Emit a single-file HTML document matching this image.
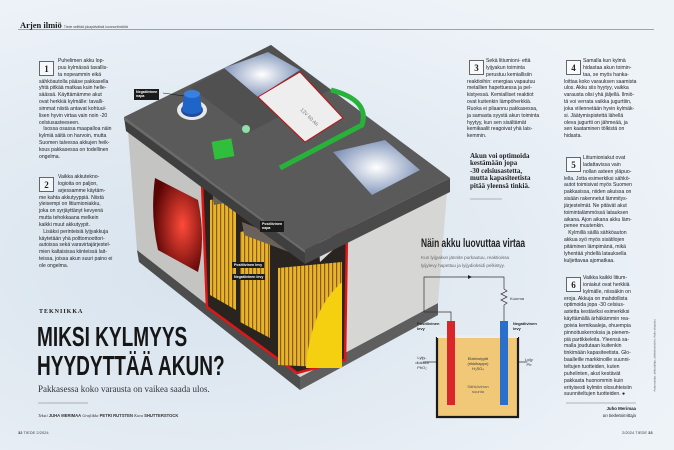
<!DOCTYPE html>
<html><head><meta charset="utf-8">
<style>
*{margin:0;padding:0;box-sizing:border-box}
body{width:674px;height:450px;overflow:hidden;position:relative;font-family:"Liberation Sans",sans-serif;
background:radial-gradient(ellipse at 30% 60%,#d7e3ee 0%,#e2eaf2 40%,#eef3f8 80%);}
.t{position:absolute;font-size:5.1px;line-height:6.85px;color:#1d1d1d;white-space:nowrap}
.box{position:absolute;width:15px;height:15px;border:0.6px solid #666;background:rgba(255,255,255,.6);font-family:"Liberation Serif",serif;font-weight:bold;font-size:9px;text-align:center;line-height:14px;color:#222}
.ab{position:absolute}
.lbl{position:absolute;background:#1b1b1b;color:#fff;font-size:3.6px;font-weight:bold;line-height:4.3px;padding:1px 2px;white-space:nowrap}
.d{position:absolute;font-size:4px;line-height:4.8px;color:#333;text-align:center;white-space:nowrap}
</style></head><body>
<svg class="ab" style="left:0;top:0" width="674" height="450">
<defs>
<radialGradient id="sp" cx="50%" cy="50%" r="60%"><stop offset="0" stop-color="#fff"/><stop offset="1" stop-color="#6f86b0"/></radialGradient>
<radialGradient id="rg" cx="60%" cy="50%" r="60%"><stop offset="0" stop-color="#ff4a3a"/><stop offset="1" stop-color="#5a0505"/></radialGradient>
<pattern id="pl" width="4" height="10" patternUnits="userSpaceOnUse"><rect width="4" height="10" fill="#e6b52c"/><rect width="1.2" height="10" fill="#8a5c10"/></pattern>
</defs>
<polygon points="137,250 300,377 300,390 139,262" fill="#4d4d4d"/>
<polygon points="300,377 438,303 438,315 300,390" fill="#5e5e5e"/>
<polygon points="128,131 305,264 300,377 137,250" fill="#c4c4c2"/>
<polygon points="305,264 447,192 438,303 300,377" fill="#d6d6d4"/>
<path d="M155,178 L198,200 Q206,240 198,272 L158,250 Q150,215 155,178Z" fill="url(#rg)"/>
<polygon points="202,183 240,167 347,230 345,360 297,373 207,307" fill="#2a2420" stroke="#e01515" stroke-width="2.5"/>
<polygon points="210,200 236,195 236,310 210,295" fill="url(#pl)"/>
<polygon points="240,232 270,226 270,338 240,322" fill="url(#pl)"/>
<polygon points="278,268 342,262 342,368 278,365" fill="url(#pl)"/>
<path d="M342,282 Q310,310 306,368 L342,368Z" fill="#f5d010"/>
<polygon points="212,190 240,180 300,215 300,230 240,200 214,205" fill="#6a625a"/>
<polygon points="242,222 300,245 305,258 244,235" fill="#6a625a"/>
<polygon points="315,200 330,196 333,250 320,262" fill="#dcdcdc"/>
<path d="M312,195 Q335,180 350,200 L350,240 L335,245Z" fill="#e01515"/>
<polygon points="124,117 305,250 305,264 126,131" fill="#3f3f3f"/>
<polygon points="305,250 450,178 450,192 305,264" fill="#4a4a4a"/>
<polygon points="271,45 450,178 305,250 124,117" fill="#5a5a5a"/>
<polygon points="190,87 271,45 330,90 250,132" fill="#505050"/>
<polygon points="124,117 305,250 305,253 124,120" fill="#6a6a6a"/>
<polygon points="224,68 268,52 300,70 258,97" fill="url(#sp)"/>
<polygon points="258,97 300,72 343,118 305,142" fill="#eeeeee" stroke="#c01010" stroke-width="1"/>
<text x="300" y="110" font-size="5" fill="#777" transform="rotate(45 300 110)" font-family="Liberation Sans">12V 60 Ah</text>
<polygon points="333,152 385,140 420,170 372,195" fill="url(#sp)"/>
<path d="M331,90 Q370,100 362,125 L280,168" fill="none" stroke="#27b33a" stroke-width="5"/>
<rect x="213" y="140" width="20" height="18" fill="#2fbf3c" transform="rotate(-10 223 149)"/>
<circle cx="246" cy="129" r="4" fill="#8fe0a8"/>
<ellipse cx="192" cy="110" rx="15" ry="10" fill="#e8e8e8"/>
<ellipse cx="192" cy="110" rx="11" ry="7" fill="#234a9a"/>
<path d="M184,95 L200,95 L202,111 Q192,117 182,111Z" fill="#1f64c8"/>
<ellipse cx="192" cy="94" rx="8" ry="4" fill="#3a80e0"/>
<line x1="163" y1="93" x2="184" y2="96" stroke="#111" stroke-width=".5"/>
<line x1="18" y1="29.5" x2="654" y2="29.5" stroke="#555" stroke-width=".5"/>
<line x1="38" y1="403" x2="88" y2="403" stroke="#777" stroke-width=".5"/>
<line x1="470" y1="199" x2="502" y2="199" stroke="#777" stroke-width=".5"/>
<line x1="566" y1="403" x2="636" y2="403" stroke="#777" stroke-width=".5"/>
<g stroke="#333" stroke-width=".7" fill="none">
<polyline points="451,321 451,312 424,312 424,277 504,277 504,289"/>
<polyline points="504,289 507,291 501,294 507,297 501,300 507,303 504,305 504,321"/>
<line x1="423" y1="362" x2="447" y2="362"/><line x1="508" y1="362" x2="527" y2="362"/>
<line x1="498" y1="397" x2="459" y2="397"/>
</g>
<polygon points="468,275 468,279 472,277" fill="#222"/>
<polygon points="457,397 461,395 461,399" fill="#222"/>
<path d="M437,337 V417 H518 V337" fill="#f1c878" stroke="#1a1a1a" stroke-width="2.2"/>
<rect x="437" y="335" width="81" height="3" fill="#eaeef3"/>
<rect x="447" y="321" width="8" height="84" fill="#d8262a"/>
<rect x="500" y="321" width="8" height="84" fill="#2b6fcc"/>
</svg>

<div class="t" style="left:20px;top:20px;font-family:'Liberation Serif',serif;font-weight:bold;font-size:8.5px;line-height:10px">Arjen ilmiö <span style="font-family:'Liberation Sans';font-weight:normal;font-size:3.4px;color:#444">Tiede selittää jokapäiväisiä luonnonilmiöitä</span></div>

<div class="lbl" style="left:134px;top:89px">Negatiivinen<br>napa</div>
<div class="lbl" style="left:260px;top:221px">Positiivinen<br>napa</div>
<div class="lbl" style="left:232px;top:262px">Positiivinen levy</div>
<div class="lbl" style="left:232px;top:274px">Negatiivinen levy</div>

<div class="box" style="left:39px;top:61px">1</div>
<div class="t" style="left:39px;top:58px"><span style="margin-left:19px">Puhelimen akku lop-</span><br><span style="margin-left:19px">puu kylmässä tavallis-</span><br><span style="margin-left:19px">ta nopeammin eikä</span><br>sähköautolla pääse pakkasella<br>yhtä pitkää matkaa kuin helle-<br>säässä. Käyttämämme akut<br>ovat herkkiä kylmälle: tavalli-<br>simmat niistä antavat kohtuul-<br>lisen hyvin virtaa vain noin -20<br>celsiusasteeseen.<br>&nbsp;&nbsp;&nbsp;Isossa osassa maapalloa näin<br>kylmiä säitä on harvoin, mutta<br>Suomen talvessa akkujen heik-<br>kous pakkasessa on todellinen<br>ongelma.</div>

<div class="box" style="left:39px;top:177px">2</div>
<div class="t" style="left:39px;top:174px"><span style="margin-left:19px">Vaikka akkutekno-</span><br><span style="margin-left:19px">logioita on paljon,</span><br><span style="margin-left:19px">arjessamme käytäm-</span><br>me kahta akkutyyppiä. Niistä<br>yleisempi on litiumioniakku,<br>joka on syrjäyttänyt kevyenä<br>mutta tehokkaana melkein<br>kaikki muut akkutyypit.<br>&nbsp;&nbsp;&nbsp;Lisäksi perinteisiä lyijyakkuja<br>käytetään yhä polttomoottori-<br>autoissa sekä varavirtajärjestel-<br>mien kaltaisissa kiinteissä lait-<br>teissa, joissa akun suuri paino ei<br>ole ongelma.</div>

<div class="t" style="left:39px;top:309px;font-family:'Liberation Serif',serif;font-weight:bold;font-size:6px;letter-spacing:1px;line-height:7px">TEKNIIKKA</div>
<div class="t" style="left:37px;top:322px;font-weight:bold;font-size:28px;line-height:29px;color:#161616;transform:scaleX(0.68);transform-origin:0 0">MIKSI KYLMYYS<br>HYYDYTTÄÄ AKUN?</div>
<div class="t" style="left:38px;top:384px;font-family:'Liberation Serif',serif;font-size:9px;line-height:11px;color:#333">Pakkasessa koko varausta on vaikea saada ulos.</div>
<div class="t" style="left:38px;top:413px;font-size:4.2px;line-height:6px;color:#333"><i style="font-family:'Liberation Serif'">Teksti</i> <b>JUHA MERIMAA</b> <i style="font-family:'Liberation Serif'">Grafiikka</i> <b>PETRI RUTSTEN</b> <i style="font-family:'Liberation Serif'">Kuva</i> <b>SHUTTERSTOCK</b></div>
<div class="t" style="left:18px;top:430px;font-size:4px;color:#444"><b>32</b> TIEDE 2/2024</div>
<div class="t" style="left:622px;top:430px;font-size:4px;color:#444">2/2024 TIEDE <b>33</b></div>

<div class="box" style="left:469px;top:60px">3</div>
<div class="t" style="left:467px;top:58px"><span style="margin-left:19px">Sekä litiumioni- että</span><br><span style="margin-left:19px">lyijyakun toiminta</span><br><span style="margin-left:19px">perustuu kemiallisiin</span><br>reaktioihin: energiaa vapautuu<br>metallien hapettuessa ja pel-<br>kistyessä. Kemialliset reaktiot<br>ovat kuitenkin lämpöherkkiä.<br>Ruoka ei pilaannu pakkasessa,<br>ja samasta syystä akun toiminta<br>hyytyy, kun sen sisältämät<br>kemikaalit reagoivat yhä lais-<br>kemmin.</div>

<div class="box" style="left:566px;top:60px">4</div>
<div class="t" style="left:564px;top:58px"><span style="margin-left:19px">Samalla kun kylmä</span><br><span style="margin-left:19px">hidastaa akun toimin-</span><br><span style="margin-left:19px">taa, se myös hanka-</span><br>loittaa koko varauksen saamista<br>ulos. Akku siis hyytyy, vaikka<br>varausta olisi yhä jäljellä. Ilmiö-<br>tä voi verrata vaikka jugurttiin,<br>joka viilennetään hyvin kylmäk-<br>si. Jäätymispistettä lähellä<br>oleva jugurtti on jähmeää, ja<br>sen kaataminen tölkistä on<br>hidasta.</div>

<div class="t" style="left:470px;top:153px;font-family:'Liberation Serif',serif;font-weight:bold;font-size:7px;line-height:7.4px;color:#222">Akun voi optimoida<br>kestämään jopa<br>-30 celsiusastetta,<br>mutta kapasiteetista<br>pitää yleensä tinkiä.</div>

<div class="box" style="left:566px;top:157px">5</div>
<div class="t" style="left:564px;top:155px"><span style="margin-left:19px">Litiumioniakut ovat</span><br><span style="margin-left:19px">ladattavissa vain</span><br><span style="margin-left:19px">nollan asteen yläpuo-</span><br>lella. Jotta esimerkiksi sähkö-<br>autot toimisivat myös Suomen<br>pakkasissa, niiden akuissa on<br>sisään rakennetut lämmitys-<br>järjestelmät. Ne pitävät akut<br>toimintalämmössä latauksen<br>aikana. Ajon aikana akku läm-<br>penee muutenkin.<br>&nbsp;&nbsp;&nbsp;Kylmillä säillä sähköauton<br>akkua syö myös sisätilojen<br>pitäminen lämpimänä, mikä<br>lyhentää yhdellä latauksella<br>kuljettavaa ajomatkaa.</div>

<div class="box" style="left:566px;top:277px">6</div>
<div class="t" style="left:564px;top:275px"><span style="margin-left:19px">Vaikka kaikki litium-</span><br><span style="margin-left:19px">ioniakut ovat herkkiä</span><br><span style="margin-left:19px">kylmälle, niissäkin on</span><br>eroja. Akkuja on mahdollista<br>optimoida jopa -30 celsius-<br>astetta kestäviksi esimerkiksi<br>käyttämällä ärhäkämmin rea-<br>goivia kemikaaleja, ohuempia<br>pinnoituskerroksia ja pienem-<br>piä partikkeleita. Yleensä sa-<br>malla joudutaan kuitenkin<br>tinkimään kapasiteetista. Glo-<br>baalleille markkinoille suunni-<br>teltujen tuotteiden, kuten<br>puhelinten, akut kestävät<br>pakkasta huonommin kuin<br>erityisesti kylmiin olosuhteisiin<br>suunniteltujen tuotteiden. ●</div>
<div class="t" style="left:566px;top:405px;width:70px;text-align:right;font-size:4.4px;line-height:7px"><b>Juho Merimaa</b><br><i>on tiedetoimittaja</i></div>
<div class="t" style="left:600px;top:352px;font-size:3px;color:#555;transform:rotate(-90deg);transform-origin:50% 50%;width:110px;text-align:center">Asiantuntija: akkututkija, sähköinsinööri, Aalto-yliopisto</div>

<div class="t" style="left:421px;top:237px;font-weight:bold;font-size:12px;line-height:13px;color:#222;transform:scaleX(0.70);transform-origin:0 0">Näin akku luovuttaa virtaa</div>
<div class="t" style="left:421px;top:254px;font-size:4.6px;line-height:8px;color:#666">Kun lyijyakun jännite purkautuu, reaktioissa<br>lyijylevy hapettuu ja lyijydioksidi pelkistyy.</div>
<div class="d" style="left:510px;top:297px;text-align:left">Kuorma</div>
<div class="d" style="left:417px;top:322px;font-weight:bold;color:#222;text-align:left">Positiivinen<br>levy</div>
<div class="d" style="left:513px;top:322px;font-weight:bold;color:#222;text-align:left">Negatiivinen<br>levy</div>
<div class="d" style="left:410px;top:356px;width:24px">Lyijy-<br>dioksidi<br>PbO₂</div>
<div class="d" style="left:522px;top:358px;width:14px">Lyijy<br>Pb</div>
<div class="d" style="left:458px;top:357px;width:40px">Elektrolyytti<br>(rikkihappo)<br>H₂SO₄</div>
<div class="d" style="left:458px;top:385px;width:40px;color:#555">Sähkövirran<br>suunta</div>
</body></html>
